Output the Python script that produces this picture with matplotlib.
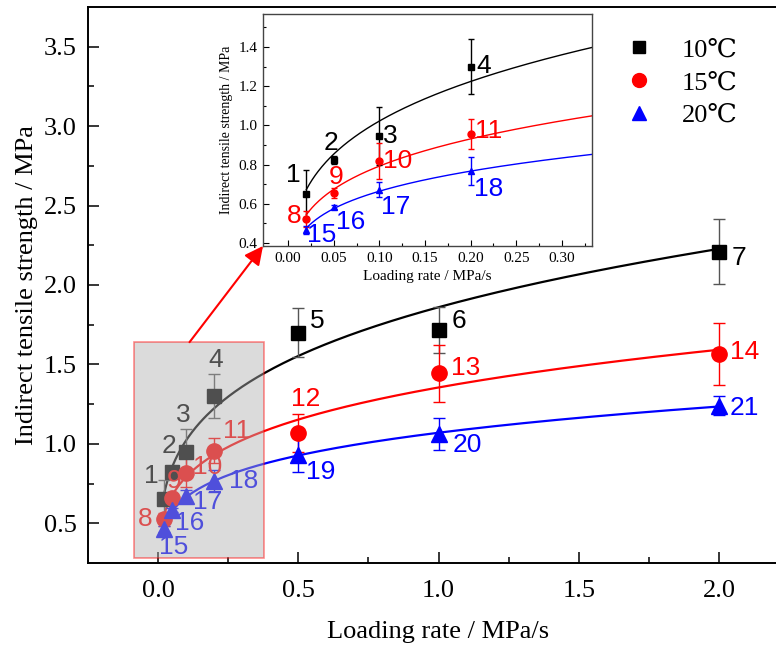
import numpy as np
import matplotlib
matplotlib.use("Agg")
import matplotlib.pyplot as plt
from matplotlib.patches import Rectangle

# loading rate (MPa/s) and indirect tensile strength (MPa)
rates = [0.02, 0.05, 0.1, 0.2, 0.5, 1.0, 2.0]

its_10 = [0.652, 0.825, 0.946, 1.30, 1.70, 1.715, 2.21]
err_10 = [0.12, 0.02, 0.15, 0.14, 0.155, 0.145, 0.205]
ids_10 = ["1", "2", "3", "4", "5", "6", "7"]

its_15 = [0.524, 0.657, 0.818, 0.958, 1.07, 1.443, 1.563]
err_15 = [0.04, 0.025, 0.09, 0.077, 0.12, 0.18, 0.195]
ids_15 = ["8", "9", "10", "11", "12", "13", "14"]

its_20 = [0.465, 0.584, 0.672, 0.767, 0.93, 1.063, 1.24]
err_20 = [0.02, 0.01, 0.037, 0.071, 0.107, 0.10, 0.06]
ids_20 = ["15", "16", "17", "18", "19", "20", "21"]

# power-law fits  y = a * x**b
fit_10 = (1.86, 0.26)
fit_15 = (1.355, 0.233)
fit_20 = (1.07, 0.207)

series_names = ["10\u2103", "15\u2103", "20\u2103"]

# label offsets (pixels, y up) around each point
main_off = {
    "1": (-12, 23), "2": (-3, 26), "3": (-3, 37), "4": (2, 36),
    "5": (19, 12), "6": (20, 9), "7": (20, -6),
    "8": (-19, 0), "9": (2, 17), "10": (21, 6), "11": (22, 20),
    "12": (7, 34), "13": (27, 5), "14": (26, 2),
    "15": (10, -18), "16": (18, -13), "17": (22, -6), "18": (29, 0),
    "19": (22, -17), "20": (29, -11), "21": (25, -2),
}
inset_off = {
    "1": (-13, 19), "2": (-3, 17), "3": (11, 0), "4": (13, 1),
    "8": (-12, 3), "9": (2, 16), "10": (18, 0), "11": (18, 3),
    "15": (15, -5), "16": (17, -15), "17": (16, -17), "18": (18, -18),
}

SERIF = "Liberation Serif"
SANS = "Liberation Sans"
PX = 72.0 / 100.0


def draw_series(ax, x, y, err, ids, fit, color, marker, ms, ecolor, lw, offsets, fontsize, xmin, xmax, cap):
    xs = np.linspace(xmin, xmax, 300)
    ax.plot(xs, fit[0] * xs ** fit[1], color=color, lw=lw, zorder=2)
    ax.errorbar(x, y, yerr=err, fmt=marker, color=color, ms=ms, ecolor=ecolor,
                elinewidth=1, capsize=cap, capthick=1, zorder=3)
    for xi, yi, name in zip(x, y, ids):
        if name not in offsets:
            continue
        dx, dy = offsets[name]
        ax.annotate(name, (xi, yi), xytext=(dx * PX, dy * PX), textcoords="offset points",
                    ha="center", va="center", color=color, fontsize=fontsize,
                    family=SANS, zorder=4)


fig = plt.figure(figsize=(7.76, 6.46), dpi=100)
ax = fig.add_axes([88 / 776, 1 - 563 / 646, 701 / 776, 556 / 646])

draw_series(ax, rates, its_10, err_10, ids_10, fit_10, "black", "s", 10, "#555555", 1.6,
            main_off, 19, 0.015, 2.0, 4)
draw_series(ax, rates, its_15, err_15, ids_15, fit_15, "red", "o", 11, "red", 1.6,
            main_off, 19, 0.015, 2.0, 4)
draw_series(ax, rates, its_20, err_20, ids_20, fit_20, "blue", "^", 11, "blue", 1.6,
            main_off, 19, 0.015, 2.0, 4)

ax.set_xlim(-0.25, 2.25)
ax.set_ylim(0.25, 3.75)
ax.set_xticks([0.0, 0.5, 1.0, 1.5, 2.0])
ax.set_xticks(np.arange(0.25, 2.0, 0.5), minor=True)
ax.set_yticks([0.5, 1.0, 1.5, 2.0, 2.5, 3.0, 3.5])
ax.set_yticks(np.arange(0.75, 3.5, 0.5), minor=True)
ax.tick_params(which="major", direction="in", length=8, width=1.1, labelsize=19)
ax.tick_params(axis="x", which="major", pad=12)
ax.tick_params(axis="y", which="major", pad=8)
ax.tick_params(which="minor", direction="in", length=4, width=1.1)
for lab in ax.get_xticklabels() + ax.get_yticklabels():
    lab.set_family(SERIF)
for sp in ax.spines.values():
    sp.set_linewidth(1.4)
ax.set_xlabel("Loading rate / MPa/s", family=SERIF, fontsize=19, labelpad=14)
ax.set_ylabel("Indirect tensile strength / MPa", family=SERIF, fontsize=19, labelpad=4)

# shaded zoom region
ax.add_patch(Rectangle((-0.087, 0.28), 0.463, 1.36, facecolor=(0.69, 0.69, 0.69, 0.45),
                       edgecolor=(1, 0, 0, 0.45), lw=1.2, zorder=20))

legend_handles = [
    plt.Line2D([], [], ls="none", marker="s", color="black", ms=9),
    plt.Line2D([], [], ls="none", marker="o", color="red", ms=10),
    plt.Line2D([], [], ls="none", marker="^", color="blue", ms=10),
]
fig.legend(legend_handles, series_names, loc="upper left", bbox_to_anchor=(613 / 776, 1 - 38 / 646),
           frameon=False, prop={"family": [SERIF, "DejaVu Serif", "DejaVu Sans"], "size": 19},
           borderpad=0, borderaxespad=0, handletextpad=0.6, labelspacing=0.35)

# inset
axin = fig.add_axes([263 / 776, 1 - 246 / 646, 329 / 776, 232 / 646])
draw_series(axin, rates[:4], its_10[:4], err_10[:4], ids_10[:4], fit_10, "black", "s", 5, "black", 1.0,
            inset_off, 19, 0.02, 0.34, 2)
draw_series(axin, rates[:4], its_15[:4], err_15[:4], ids_15[:4], fit_15, "red", "o", 5, "red", 1.0,
            inset_off, 19, 0.02, 0.34, 2)
draw_series(axin, rates[:4], its_20[:4], err_20[:4], ids_20[:4], fit_20, "blue", "^", 5, "blue", 1.0,
            inset_off, 19, 0.02, 0.34, 2)
axin.set_xlim(-0.0275, 0.333)
axin.set_ylim(0.385, 1.568)
axin.set_xticks(np.arange(0.0, 0.31, 0.05))
axin.set_xticks(np.arange(0.025, 0.33, 0.05), minor=True)
axin.set_yticks(np.arange(0.4, 1.41, 0.2))
axin.set_yticks(np.arange(0.5, 1.56, 0.2), minor=True)
axin.xaxis.set_major_formatter(plt.FormatStrFormatter("%.2f"))
axin.yaxis.set_major_formatter(plt.FormatStrFormatter("%.1f"))
axin.tick_params(which="major", direction="in", length=4, width=0.8, labelsize=11, pad=4)
axin.tick_params(which="minor", direction="in", length=2, width=0.8)
for lab in axin.get_xticklabels() + axin.get_yticklabels():
    lab.set_family(SERIF)
for sp in axin.spines.values():
    sp.set_linewidth(1.0)
    sp.set_color("#444444")
axin.set_xlabel("Loading rate / MPa/s", family=SERIF, fontsize=11, labelpad=4)
axin.set_ylabel("Indirect tensile strength / MPa", family=SERIF, fontsize=10, labelpad=4)

# arrow from the shaded box to the inset
ax.annotate("", xy=(0, 0), xycoords=axin.transAxes, xytext=(0.112, 1.64), textcoords="data",
            arrowprops=dict(arrowstyle="-|>", color="red", lw=1.5, mutation_scale=28,
                            shrinkA=0, shrinkB=0),
            annotation_clip=False, zorder=25)

fig.savefig("out.png", dpi=100)
